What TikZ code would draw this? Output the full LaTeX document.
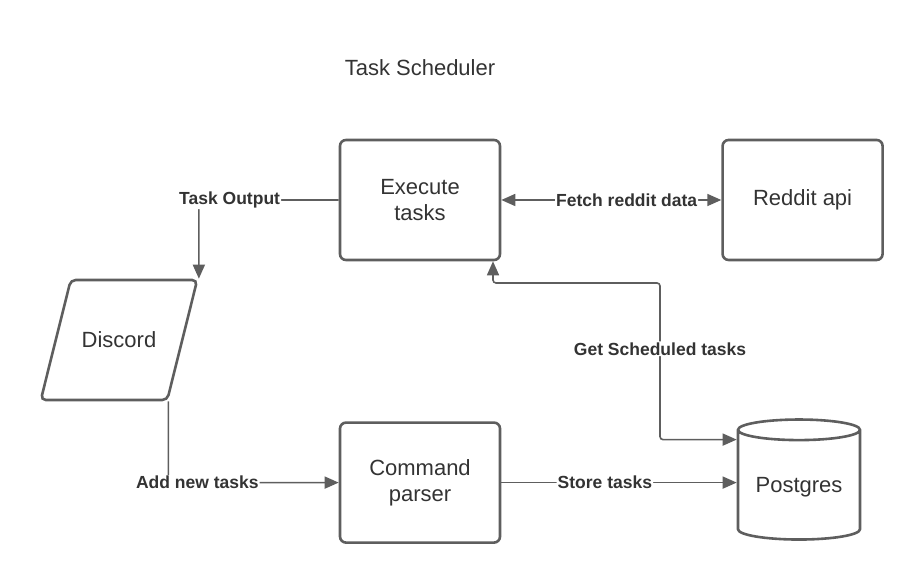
\documentclass[tikz,border=0pt]{standalone}
\usepackage{fontspec}
\setmainfont{Liberation Sans}
\usepackage{xcolor}
\usepackage{tikz}
\usetikzlibrary{positioning, shapes.geometric}
\usetikzlibrary{calc, arrows.meta}
\definecolor{edgegray}{HTML}{5E5E5E}
\definecolor{textgray}{HTML}{333333}
\tikzstyle{process} = [rectangle, rounded corners=6pt, minimum width=160pt, minimum height=120pt, align=center, text centered, draw=edgegray, line width=2.6pt, text=textgray, font=\fontsize{22}{26}\selectfont]
\tikzstyle{io} = [trapezium, trapezium left angle=76, trapezium right angle=104, text height=16pt, text depth=0pt, inner xsep=11pt, inner ysep=52pt, rounded corners=5pt, text centered, draw=edgegray, line width=2.6pt, text=textgray, font=\fontsize{22}{26}\selectfont]
\tikzstyle{database} = [cylinder, shape border rotate=90, aspect=0.22, minimum width=122pt, minimum height=120pt, text centered, draw=edgegray, line width=2.6pt, text=textgray, font=\fontsize{22}{26}\selectfont]
\tikzstyle{arrow} = [line width=1.6pt, draw=edgegray, rounded corners=3pt, -{Triangle[length=14pt,width=12pt]}]
\tikzstyle{lbl} = [fill=white, inner sep=1pt, text=textgray, font=\fontsize{17.5}{20}\selectfont\bfseries]

\begin{document}
\begin{tikzpicture}[x=1pt, y=1pt]
		\useasboundingbox (0,0) rectangle (920,580);
		\node (title) [text=textgray, font=\fontsize{22}{26}\selectfont] at (420,512) {Task Scheduler};
		\node (ex) [process] at (420,380) {Execute\\tasks};
		\node (rd) [process, right=220pt of ex] {Reddit api};
		\node (cp) [process, below=160pt of ex] {Command\\parser};
		\node (dc) [io] at (119,240) {Discord};
		\node (pg) [database] at (799,93) {Postgres};
		\coordinate (pgst) at (cp.east -| pg.west);
		\coordinate (pgin) at ($(pgst)+(0,43)$);
		\coordinate (bend) at (660,297);
		\coordinate (exin) at ($(ex.south)+(73,0)$);
		\draw [arrow](ex.west) -| node[lbl, pos=0.39]{Task Output} (dc.top right corner);
		\draw [arrow](dc.bottom right corner) |- node[lbl, pos=0.585]{Add new tasks} (cp.west);
		\draw [arrow, {Triangle[length=14pt,width=12pt]}-{Triangle[length=14pt,width=12pt]}](ex.east) -- node[lbl, pos=0.57]{Fetch reddit data} (rd.west);
		\draw [arrow](cp.east) -- node[lbl, pos=0.44]{Store tasks} (pgst);
		\draw [arrow, {Triangle[length=14pt,width=12pt]}-{Triangle[length=14pt,width=12pt]}](exin) |- (bend) |- node[lbl, pos=0.21]{Get Scheduled tasks} (pgin);
	\end{tikzpicture}
\end{document}
